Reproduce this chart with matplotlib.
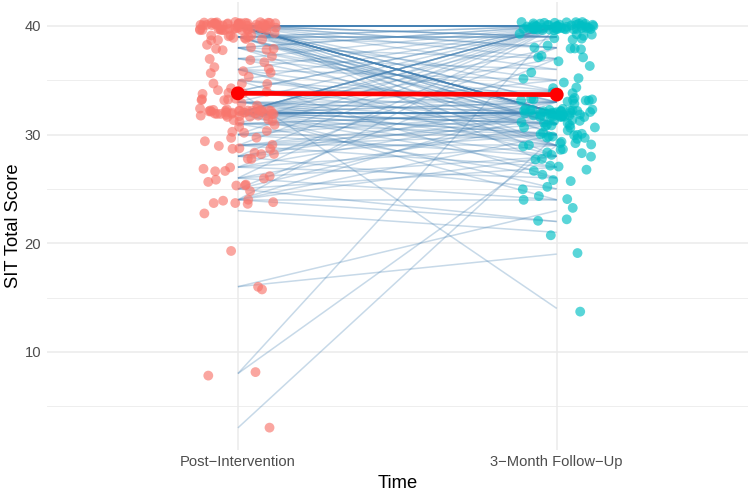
import numpy as np
import matplotlib
matplotlib.use("Agg")
import matplotlib.pyplot as plt

plt.rcParams['font.family'] = ['Liberation Sans', 'DejaVu Sans']

time_labels = ["Post\u2212Intervention", "3\u2212Month Follow\u2212Up"]
nan = np.nan

# paired SIT total scores (one entry per participant)
pre_scores = (
    [40] * 55 + [39] * 12 + [38] * 6 + [37] * 4 + [36] * 5 + [35] * 4 + [34] * 6 + [33] * 7
    + [32] * 35 + [31] * 6 + [30] * 5 + [29] * 6 + [28] * 5 + [27] * 4 + [26] * 4 + [25] * 4
    + [24] * 6 + [23] + [19] + [16] * 2 + [8] * 2 + [3]
)
followup_scores = (
    # pre 40
    [40] * 27 + [39] * 3 + [38] * 2 + [37, 36, 34] + [33] * 2 + [32] * 10 + [31] * 2 + [30, 29, 28, 27] + [nan] * 2
    # pre 39
    + [40, 40, 31, 31, 38, 32, 32, 35, 30, 39, 39, 39]
    # pre 38
    + [40, 40, 37, 33, 32, 29]
    # pre 37
    + [40, 36, 31, 34]
    # pre 36
    + [40, 29, 32, 35, 28]
    # pre 35
    + [40, 33, 32, 26]
    # pre 34
    + [40, 34, 32, 14, 31, 40]
    # pre 33
    + [40, 31, 33, 32, 32, 30, 29]
    # pre 32
    + [40] * 5 + [39, 38, 37, 35, 34] + [33] * 2 + [32] * 11 + [31] * 3 + [30] * 2 + [29, 28, 27, 25, 24] + [nan] * 2
    # pre 31
    + [40, 32, 32, 31, 30, 26]
    # pre 30
    + [40, 33, 32, 30, 28]
    # pre 29
    + [40, 30, 32, 31, 29, 27]
    # pre 28
    + [40, 32, 30, 25, 33]
    # pre 27
    + [38, 32, 29, 26]
    # pre 26
    + [40, 31, 28, 24]
    # pre 25
    + [37, 32, 27, 22]
    # pre 24
    + [40, 33, 30, 28, 22, 24]
    # pre 23, 19, 16, 8, 3
    + [21] + [nan] + [19, 23] + [40, 29] + [30]
)

pre = np.array(pre_scores, dtype=float)
post = np.array(followup_scores, dtype=float)

W, H = 750, 494
fig = plt.figure(figsize=(W / 100, H / 100), dpi=100)
ax_left, ax_right = 46.6, 748.0
ax_top, ax_bottom = 2.1, 449.6
ax = fig.add_axes([ax_left / W, 1 - ax_bottom / H, (ax_right - ax_left) / W, (ax_bottom - ax_top) / H])

ax.set_xlim(0.4, 2.6)
ax.set_ylim(1.0, 42.2)

# grid (theme_minimal look)
for v in [5, 15, 25, 35]:
    ax.axhline(v, color='#EBEBEB', lw=0.6, zorder=0)
for v in [10, 20, 30, 40]:
    ax.axhline(v, color='#EBEBEB', lw=1.1, zorder=0)
for v in [1, 2]:
    ax.axvline(v, color='#EBEBEB', lw=1.1, zorder=0)

# paired lines
for a, b in zip(pre, post):
    if not (np.isnan(a) or np.isnan(b)):
        ax.plot([1, 2], [a, b], color='#4682B4', alpha=0.3, lw=1.1, zorder=1, solid_capstyle='butt')

# jittered points
rng = np.random.default_rng(7)
m1 = ~np.isnan(pre)
m2 = ~np.isnan(post)
jx1 = rng.uniform(-0.12, 0.12, m1.sum())
jy1 = rng.uniform(-0.4, 0.4, m1.sum())
jx2 = rng.uniform(-0.12, 0.12, m2.sum())
jy2 = rng.uniform(-0.4, 0.4, m2.sum())
ax.scatter(1 + jx1, pre[m1] + jy1, s=50, color='#F8766D', alpha=0.65, edgecolors='none', zorder=2)
ax.scatter(2 + jx2, post[m2] + jy2, s=50, color='#00BFC4', alpha=0.65, edgecolors='none', zorder=2)

# means
means = [np.nanmean(pre), np.nanmean(post)]
ax.plot([1, 2], means, color='#FF0000', lw=3.4, zorder=3)
ax.scatter([1, 2], means, s=100, color='#FF0000', edgecolors='none', zorder=4)

ax.set_xticks([1, 2])
ax.set_xticklabels(time_labels)
ax.set_yticks([10, 20, 30, 40])
ax.tick_params(axis='both', length=0, labelsize=10.6, labelcolor='#4D4D4D')
ax.tick_params(axis='y', pad=4)
ax.tick_params(axis='x', pad=4)
for s in ax.spines.values():
    s.set_visible(False)

ax.set_xlabel("Time", fontsize=13.2, color='black', labelpad=4)
ax.set_ylabel("SIT Total Score", fontsize=13.2, color='black', labelpad=2)

fig.savefig("out.png", dpi=100, facecolor='white')
